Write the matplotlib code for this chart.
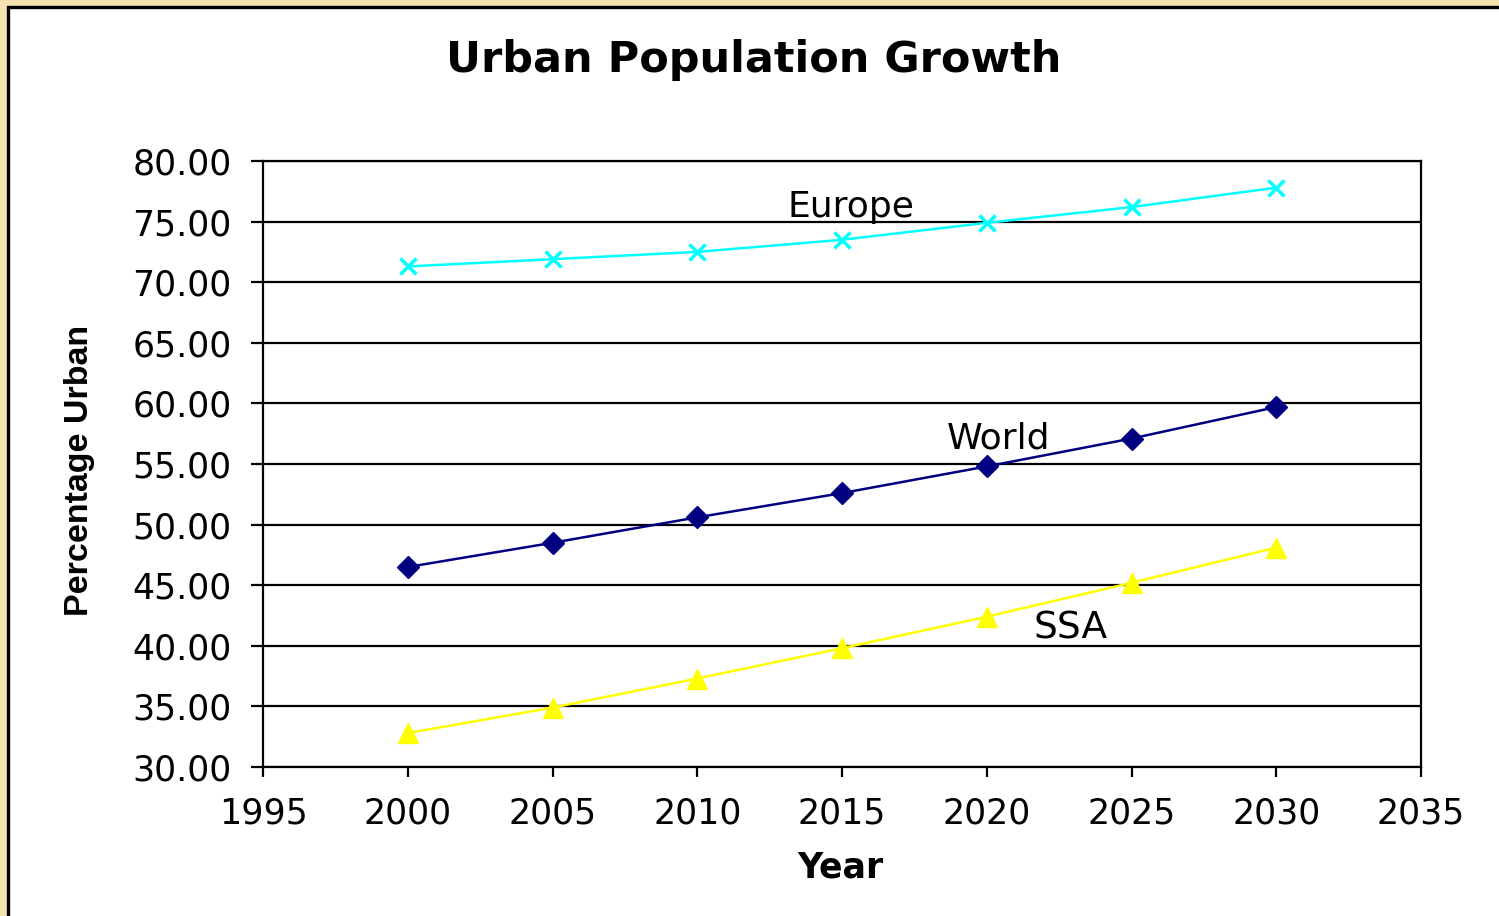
import matplotlib
matplotlib.use("Agg")
import matplotlib.pyplot as plt
from matplotlib.patches import Rectangle

years = [2000, 2005, 2010, 2015, 2020, 2025, 2030]
europe = [71.3, 71.9, 72.5, 73.5, 74.9, 76.2, 77.8]
world = [46.5, 48.5, 50.6, 52.6, 54.8, 57.1, 59.7]
ssa = [32.8, 34.9, 37.3, 39.8, 42.4, 45.2, 48.1]
xticks = [1995, 2000, 2005, 2010, 2015, 2020, 2025, 2030, 2035]
yticks = [30, 35, 40, 45, 50, 55, 60, 65, 70, 75, 80]

W, H = 1499, 916
fig = plt.figure(figsize=(W / 100, H / 100), dpi=100)
fig.patch.set_facecolor("#F4E3AE")
bg = fig.add_axes([0, 0, 1, 1], zorder=-5)
bg.set_xlim(0, W)
bg.set_ylim(H, 0)
bg.axis("off")
bg.add_patch(Rectangle((8.5, 6.5), W + 10, H + 10, facecolor="white",
                       edgecolor="black", linewidth=2.4))

ax = fig.add_axes([263 / W, (H - 767) / H, (1421 - 263) / W, (767 - 161) / H])
ax.set_facecolor("white")
fam = ["DejaVu Sans"]

ax.plot(years, europe, color="#00FFFF", lw=1.8, marker="x", ms=11, mew=2.5, zorder=3)
ax.plot(years, world, color="#000080", lw=1.8, marker="D", ms=11, zorder=3)
ax.plot(years, ssa, color="#FFFF00", lw=1.8, marker="^", ms=14, zorder=3)

ax.set_xlim(1995, 2035)
ax.set_ylim(30, 80)
ax.set_xticks(xticks)
ax.set_yticks(yticks)
ax.set_yticklabels([f"{v:.2f}" for v in yticks])
ax.yaxis.grid(True, color="black", lw=1.6)
ax.set_axisbelow(True)
for s in ax.spines.values():
    s.set_linewidth(1.6)
ax.tick_params(axis="y", direction="out", length=8.5, width=1.6,
               labelsize=25, pad=14)
ax.tick_params(axis="x", direction="out", length=7, width=1.6,
               labelsize=25, pad=14)
for lab in ax.get_xticklabels() + ax.get_yticklabels():
    lab.set_fontfamily(fam)

ax.text(2015.3, 76.2, "Europe", fontsize=26, family=fam, ha="center", va="center")
ax.text(2020.4, 57.1, "World", fontsize=26, family=fam, ha="center", va="center")
ax.text(2022.9, 41.4, "SSA", fontsize=27, family=fam, ha="center", va="center")

fig.text(754 / W, (H - 60) / H, "Urban Population Growth", fontsize=31,
         fontweight="bold", family=fam, ha="center", va="center")
fig.text(840 / W, (H - 867) / H, "Year", fontsize=25, fontweight="bold",
         family=fam, ha="center", va="center")
fig.text(80 / W, (H - 470) / H, "Percentage Urban", fontsize=24.5,
         fontweight="bold", family=["Liberation Sans"],
         rotation=90, ha="center", va="center")

fig.savefig("out.png", dpi=100, facecolor=fig.get_facecolor())
